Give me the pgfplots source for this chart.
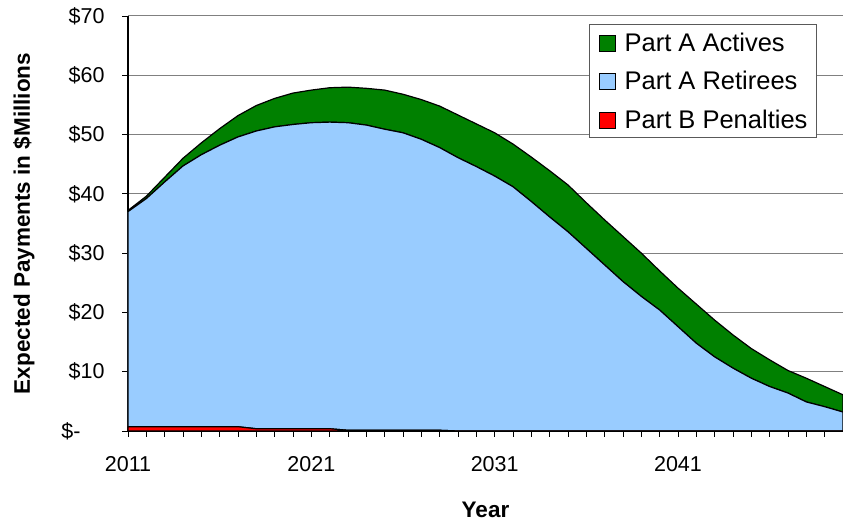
\documentclass[border=0pt]{standalone}
\usepackage{pgfplots}
\pgfplotsset{compat=1.18}
\usepackage{pgfplotstable}
\usepackage{fontspec}
\setmainfont{Liberation Sans}
\definecolor{actgreen}{RGB}{0,128,0}
\definecolor{retblue}{RGB}{153,204,255}
\definecolor{penred}{RGB}{255,0,0}

\pgfplotstableread{
year red blue green
2011 0.72 36.28 0.2
2012 0.72 38.48 0.4
2013 0.72 41.28 0.8
2014 0.72 43.98 1.3
2015 0.72 45.88 2.0
2016 0.72 47.48 2.8
2017 0.72 48.88 3.6
2018 0.38 50.22 4.3
2019 0.38 50.92 4.8
2020 0.38 51.32 5.3
2021 0.38 51.62 5.5
2022 0.38 51.72 5.8
2023 0.12 51.88 6.0
2024 0.12 51.48 6.2
2025 0.12 50.78 6.6
2026 0.12 50.18 6.5
2027 0.12 49.08 6.7
2028 0.12 47.68 7.0
2029 0 46.1 7.2
2030 0 44.6 7.2
2031 0 43.0 7.3
2032 0 41.2 7.2
2033 0 38.7 7.5
2034 0 36.1 7.8
2035 0 33.6 7.9
2036 0 30.8 7.7
2037 0 28.0 7.6
2038 0 25.2 7.6
2039 0 22.7 7.3
2040 0 20.4 6.6
2041 0 17.6 6.5
2042 0 14.8 6.6
2043 0 12.5 6.2
2044 0 10.6 5.6
2045 0 8.9 5.0
2046 0 7.5 4.5
2047 0 6.4 3.8
2048 0 4.9 4.0
2049 0 4.1 3.4
2050 0 3.2 2.9
}\datatable

\begin{document}
\begin{tikzpicture}
\begin{axis}[
  scale only axis, width=715pt, height=415pt,
  xmin=2011, xmax=2050, ymin=0, ymax=70,
  stack plots=y,
  axis lines*=left,
  axis line style={black, line width=1.2pt},
  tick align=outside,
  major tick length=6pt, minor tick length=6pt,
  tick style={black, line width=0.8pt},
  xtick={2011,2021,2031,2041},
  xticklabels={2011,2021,2031,2041},
  minor xtick={2011,...,2050},
  ytick={0,10,...,70},
  yticklabels={\$-\hspace*{24pt},\$10,\$20,\$30,\$40,\$50,\$60,\$70},
  ymajorgrids,
  grid style={draw=black!50, line width=1pt},
  tick label style={font=\fontsize{21.5}{24}\selectfont},
  yticklabel style={xshift=-14pt},
  xticklabel style={yshift=-16pt},
  xlabel={Year}, ylabel={Expected Payments in \$Millions},
  label style={font=\bfseries\fontsize{22.5}{26}\selectfont},
  xlabel style={at={(axis description cs:0.5,0)}, anchor=base, yshift=-87pt},
  ylabel style={at={(axis description cs:-0.1455,0.5)}, anchor=center},
  legend style={at={(0.9636,0.9795)}, anchor=north east, draw=black!65, line width=1pt, fill=white,
    font=\fontsize{25.5}{28}\selectfont, nodes={inner sep=0pt}, column sep=9pt, row sep=18.5pt,
    inner xsep=9pt, inner ysep=8pt},
  legend cell align=left,
  reverse legend,
  legend image code/.code={\draw[#1, line width=0.8pt] (0pt,-8pt) rectangle (16pt,8pt);},
]
\addplot[fill=penred, draw=black, line width=1.2pt] table[x=year,y=red]{\datatable} \closedcycle;
\addplot[fill=retblue, draw=black, line width=1.2pt] table[x=year,y=blue]{\datatable} \closedcycle;
\addplot[fill=actgreen, draw=black, line width=1.2pt] table[x=year,y=green]{\datatable} \closedcycle;
\legend{Part B Penalties, Part A Retirees, Part A Actives}
\end{axis}
\pgfresetboundingbox
\path ([xshift=-128pt, yshift=-94pt]current axis.south west) rectangle ([yshift=16pt]current axis.north east);
\end{tikzpicture}
\end{document}
